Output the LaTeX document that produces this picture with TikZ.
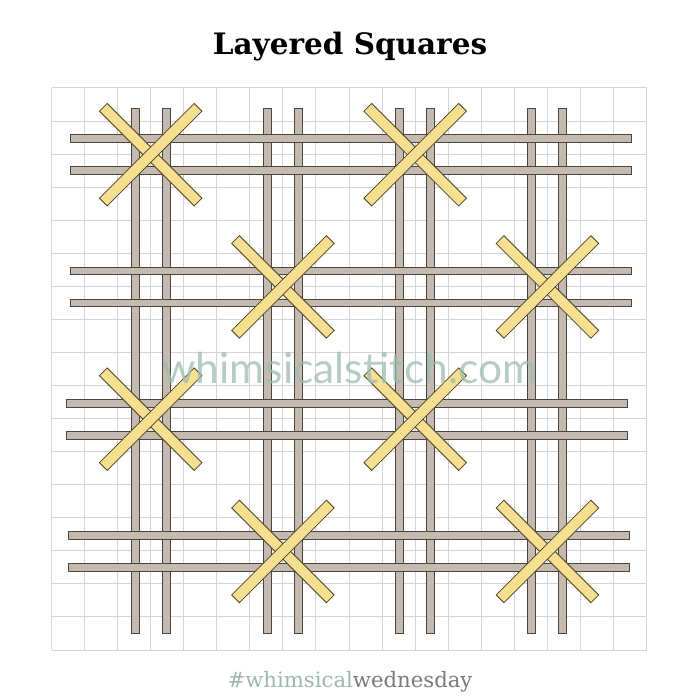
\documentclass[tikz,border=0pt]{standalone}
\usepackage{fontspec}
\usepackage{xcolor}
\newfontfamily\titlefont{DejaVu Serif}
\newfontfamily\markfont{Lato}
\definecolor{gridgray}{HTML}{D4D4D4}
\definecolor{threadgray}{HTML}{C4BAB0}
\definecolor{threadedge}{HTML}{4A4540}
\definecolor{crossyellow}{HTML}{F7DF92}
\definecolor{crossedge}{HTML}{4A4020}
\definecolor{sage}{HTML}{9BBCB0}
\definecolor{tagsage}{HTML}{9DB8AE}
\definecolor{taggray}{HTML}{7A7A7A}

\begin{document}
\begin{tikzpicture}[x=1pt,y=-1pt,
  gridline/.style={draw=gridgray,line width=1pt},
  thread/.style={fill=threadgray,draw=threadedge,line width=0.9pt},
  crossbar/.style={rectangle,fill=crossyellow,draw=crossedge,line width=0.8pt,
    minimum width=134pt,minimum height=11pt,inner sep=0pt}]
  \useasboundingbox[fill=white] (0,0) rectangle (700,700);
  % canvas grid
  \foreach \i in {0,...,18}
    \draw[gridline] ({51.5+33.06*\i},88) -- ({51.5+33.06*\i},650);
  \foreach \j in {0,...,17}
    \draw[gridline] (51.5,{88+33.06*\j}) -- (646.6,{88+33.06*\j});
  % vertical threads
  \foreach \c in {3,7,11,15}
    \foreach \d in {-15.5,15.5}
      \draw[thread] ({51.5+33.06*\c+\d-4},108) rectangle ({51.5+33.06*\c+\d+4},633);
  % horizontal threads
  \foreach \r/\s in {2/70,6/70,10/66,14/68}
    \foreach \d in {-16,16}
      \draw[thread] (\s,{88.6+33.06*\r+\d-3.9}) rectangle ({\s+561},{88.6+33.06*\r+\d+3.9});
  % cross stitches
  \foreach \c/\r/\n in {3/2/a,11/2/b,7/6/c,15/6/d,3/10/e,11/10/f,7/14/g,15/14/h} {
    \node[crossbar,rotate=-45] (back-\n) at ({51.5+33.06*\c},{88.6+33.06*\r}) {};
    \node[crossbar,rotate=45] (front-\n) at ({51.5+33.06*\c},{88.6+33.06*\r}) {};
  }
  \node[font=\titlefont\bfseries\fontsize{29.5}{34}\selectfont] (title) at (350,47) {Layered Squares};
  \node[text=sage,opacity=0.75,font=\markfont\fontsize{42.5}{50}\selectfont] (mark) at (350,368) {whimsicalstitch.com};
  \node[font=\titlefont\fontsize{21.2}{25}\selectfont] (tag) at (350,682)
    {\textcolor{tagsage}{\#whimsical}\textcolor{taggray}{wednesday}};
\end{tikzpicture}
\end{document}
